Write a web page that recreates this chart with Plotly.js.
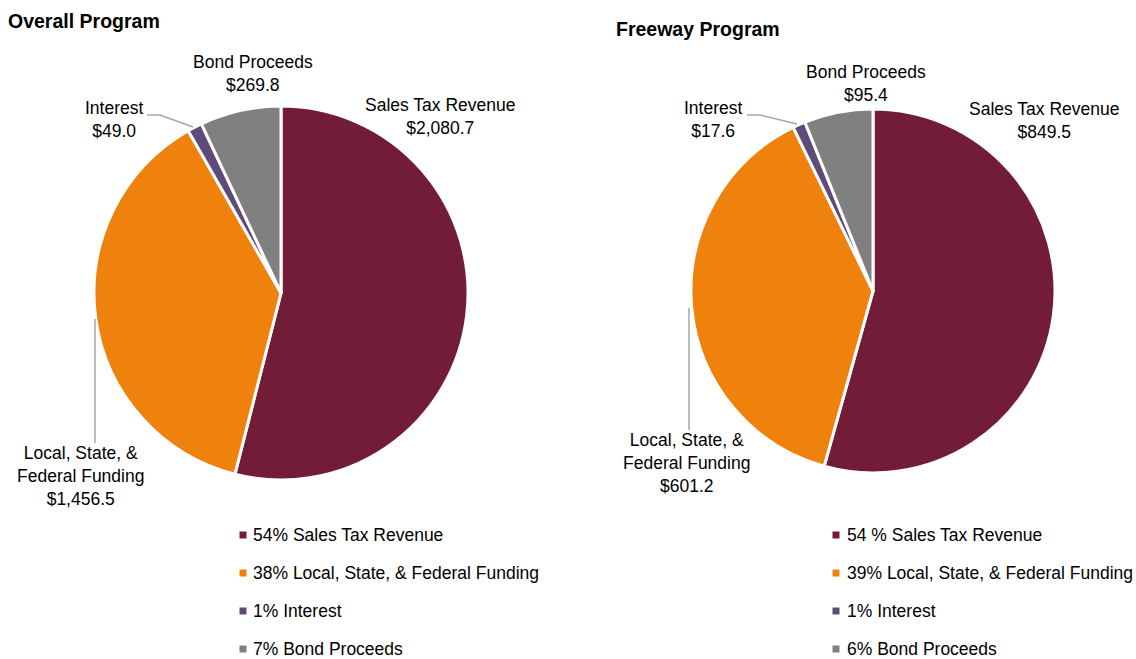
<!DOCTYPE html>
<html><head><meta charset="utf-8">
<script src="https://cdn.plot.ly/plotly-3.0.1.min.js"></script>
<style>html,body{margin:0;padding:0;background:#fff}#chart{width:1136px;height:659px}</style>
</head><body><div id="chart"></div>
<script>
// ---- data ----
const categories = ["Sales Tax Revenue", "Local, State, & Federal Funding", "Interest", "Bond Proceeds"];
const sliceLabels = ["Sales Tax Revenue", "Local, State, &<br>Federal Funding", "Interest", "Bond Proceeds"];
const overallValues = [2080.7, 1456.5, 49.0, 269.8];
const freewayValues = [849.5, 601.2, 17.6, 95.4];
const overallLegend = ["54% Sales Tax Revenue", "38% Local, State, & Federal Funding", "1% Interest", "7% Bond Proceeds"];
const freewayLegend = ["54 % Sales Tax Revenue", "39% Local, State, & Federal Funding", "1% Interest", "6% Bond Proceeds"];
const chartTitles = ["Overall Program", "Freeway Program"];
const colors = ["#721C37", "#EF820C", "#5F4A7A", "#808080"];

// ---- layout helpers ----
const W = 1136, H = 659;
const px = x => x / W;
const py = y => 1 - y / H;
const FONT = "Liberation Sans, Arial, sans-serif";
const fmt = v => "$" + v.toLocaleString("en-US", {minimumFractionDigits: 1, maximumFractionDigits: 1});

const pies = [
  {values: overallValues, legend: overallLegend, title: chartTitles[0],
   dom: {x: [94, 468], y: [106, 480]},
   titlePos: [6, 21],
   labelPos: [[440, 116], [80, 476], [114, 119], [253, 74]],
   leaders: ["M147,115 L160,115 L193,127", "M95,319 L95,443"],
   legendPos: {sq: 243, tx: 251, rows: [535, 573, 611, 649]}},
  {values: freewayValues, legend: freewayLegend, title: chartTitles[1],
   dom: {x: [691, 1055], y: [109, 473]},
   titlePos: [614, 29],
   labelPos: [[1044, 120], [686, 463], [713, 119], [866, 84]],
   leaders: ["M747,115 L760,115 L797,124", "M689,308 L689,430"],
   legendPos: {sq: 836, tx: 845, rows: [535, 573, 611, 649]}}
];

const data = [], annotations = [], shapes = [];
pies.forEach(p => {
  data.push({
    type: "pie", values: p.values, labels: categories, sort: false,
    direction: "clockwise", rotation: 0, textinfo: "none", showlegend: false,
    marker: {colors: colors, line: {color: "#ffffff", width: 3}},
    domain: {x: [px(p.dom.x[0]), px(p.dom.x[1])], y: [py(p.dom.y[1]), py(p.dom.y[0])]},
    hoverinfo: "label+value+percent"
  });
  annotations.push({xref: "paper", yref: "paper", x: px(p.titlePos[0]), y: py(p.titlePos[1]),
    xanchor: "left", yanchor: "middle", showarrow: false, text: "<b>" + p.title + "</b>",
    font: {family: FONT, size: 19.5, color: "#000"}});
  p.values.forEach((v, i) => {
    annotations.push({xref: "paper", yref: "paper", x: px(p.labelPos[i][0]), y: py(p.labelPos[i][1]),
      xanchor: "center", yanchor: "middle", showarrow: false, align: "center",
      text: sliceLabels[i] + "<br>" + fmt(v),
      font: {family: FONT, size: 17.5, color: "#000"}});
    const ry = p.legendPos.rows[i];
    shapes.push({type: "rect", xref: "paper", yref: "paper",
      x0: px(p.legendPos.sq - 3.5), x1: px(p.legendPos.sq + 3.5), y0: py(ry + 3.5), y1: py(ry - 3.5),
      fillcolor: colors[i], line: {width: 0}});
    annotations.push({xref: "paper", yref: "paper", x: px(p.legendPos.tx), y: py(ry),
      xanchor: "left", yanchor: "middle", showarrow: false, text: p.legend[i],
      font: {family: FONT, size: 17.5, color: "#000"}});
  });
  p.leaders.forEach(d => {
    const path = d.replace(/([ML])(\d+(?:\.\d+)?),(\d+(?:\.\d+)?)/g,
      (m, c, x, y) => c + px(+x) + "," + py(+y));
    shapes.push({type: "path", xref: "paper", yref: "paper", path: path,
      line: {color: "#A6A6A6", width: 1.5}});
  });
});

const layout = {
  width: W, height: H, margin: {l: 0, r: 0, t: 0, b: 0},
  paper_bgcolor: "#fff", plot_bgcolor: "#fff",
  showlegend: false, annotations: annotations, shapes: shapes,
  font: {family: FONT}
};
Plotly.newPlot("chart", data, layout, {displayModeBar: false, staticPlot: true});
</script>
</body></html>
